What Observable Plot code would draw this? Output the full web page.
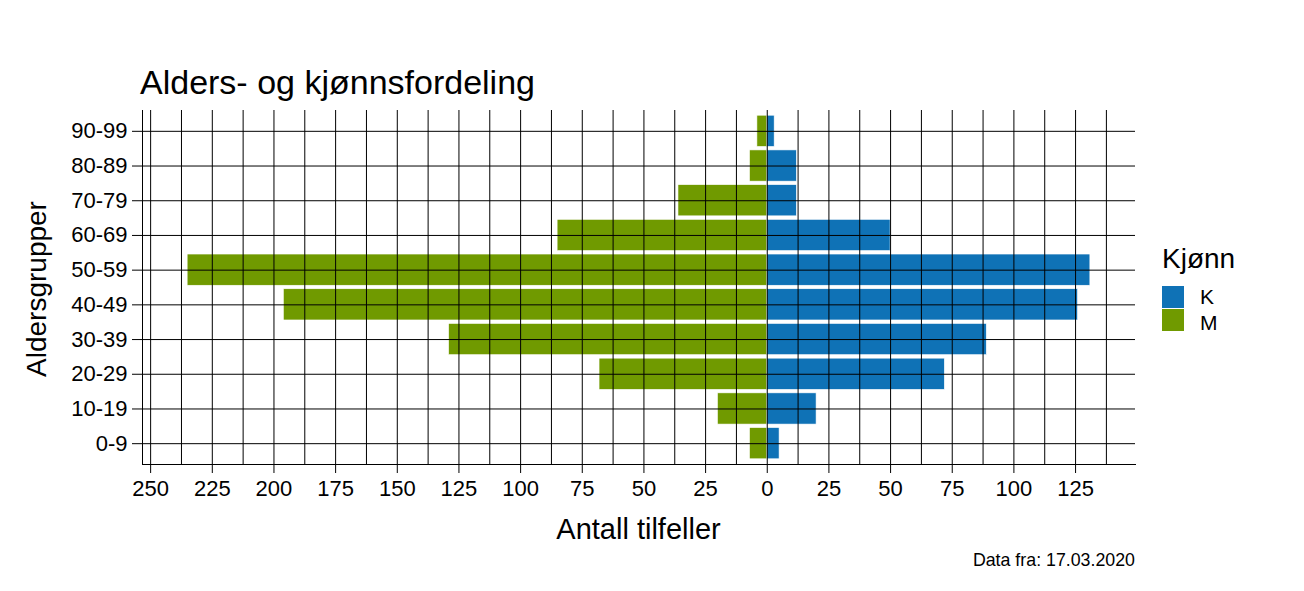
<!DOCTYPE html>
<html>
<head>
<meta charset="utf-8">
<script src="https://cdn.jsdelivr.net/npm/d3@7"></script>
<script src="https://cdn.jsdelivr.net/npm/@observablehq/plot@0.6"></script>
<style>
  html, body { margin: 0; padding: 0; background: #fff; }
  #wrap { position: relative; width: 1304px; height: 591px; font-family: "Liberation Sans", Arial, sans-serif; color: #000; }
  #wrap .t { position: absolute; white-space: nowrap; line-height: 1; }
  #chart { position: absolute; left: 0; top: 0; }
</style>
</head>
<body>
<div id="wrap">
  <div id="chart"></div>
</div>
<script>
// ---- data ----
const ageGroups = ["0-9", "10-19", "20-29", "30-39", "40-49", "50-59", "60-69", "70-79", "80-89", "90-99"];
const kvinner = [5, 20, 72, 89, 126, 131, 50, 12, 12, 3];   // K
const menn    = [7, 20, 68, 129, 196, 235, 85, 36, 7, 4];    // M
const genders = ["K", "M"];
const genderColors = ["#0f72b6", "#709a00"];
const xTickValues = [-250, -225, -200, -175, -150, -125, -100, -75, -50, -25, 0, 25, 50, 75, 100, 125];
const xMinorValues = xTickValues.map(v => v + 12.5);

const titleText = "Alders- og kjønnsfordeling";
const xTitle = "Antall tilfeller";
const yTitle = "Aldersgrupper";
const legendTitle = "Kjønn";
const captionText = "Data fra: 17.03.2020";

// ---- table ----
const rows = [];
ageGroups.forEach((a, i) => {
  rows.push({age: a, kjonn: "K", value: kvinner[i]});
  rows.push({age: a, kjonn: "M", value: -menn[i]});
});

// ggplot-like 5% expansion of the data range
const lo = -d3.max(menn), hi = d3.max(kvinner);
const pad = (hi - lo) * 0.05;
const xDomain = [lo - pad, hi + pad];
const minorInside = xMinorValues.filter(v => v > xDomain[0] && v < xDomain[1]);

const W = 1304, H = 591;
const mL = 142, mR = 169, mT = 110, mB = 127;

const chart = Plot.plot({
  width: W,
  height: H,
  marginLeft: mL,
  marginRight: mR,
  marginTop: mT,
  marginBottom: mB,
  style: {fontFamily: '"Liberation Sans", Arial, sans-serif', fontSize: "22px", color: "#000", background: "#fff"},
  x: {domain: xDomain, ticks: xTickValues, tickFormat: d => Math.abs(d), label: null},
  y: {domain: ageGroups.slice().reverse(), paddingInner: 0.1, paddingOuter: 0.15, round: false, label: null},
  color: {domain: genders, range: genderColors},
  marks: [
    Plot.barX(rows, {y: "age", x1: 0, x2: "value", fill: "kjonn", stroke: "white", strokeWidth: 0.6}),
    Plot.ruleX(minorInside, {stroke: "#000", strokeWidth: 1}),
    Plot.ruleX(xTickValues, {stroke: "#000", strokeWidth: 1}),
    Plot.ruleY(ageGroups, {stroke: "#000", strokeWidth: 1}),
    Plot.frame({anchor: "left", stroke: "#000", strokeWidth: 1}),
    Plot.frame({anchor: "bottom", stroke: "#000", strokeWidth: 1}),
    Plot.axisX({ticks: xTickValues, tickFormat: d => Math.abs(d), tickSize: 9, tickPadding: 7, label: null, fontSize: 22}),
    Plot.axisY({tickSize: 10, tickPadding: 5, label: null, fontSize: 22})
  ]
});
document.getElementById("chart").appendChild(chart);

// ---- texts & legend (HTML) ----
const wrap = document.getElementById("wrap");
function addText(txt, css) {
  const d = document.createElement("div");
  d.className = "t";
  d.textContent = txt;
  Object.assign(d.style, css);
  wrap.appendChild(d);
  return d;
}
addText(titleText, {left: "140px", top: "65px", fontSize: "34px"});
addText(xTitle, {left: ((mL + (W - mR)) / 2) + "px", top: "514.5px", fontSize: "29px", transform: "translateX(-50%)"});
addText(yTitle, {left: "37px", top: ((mT + (H - mB)) / 2 + 2) + "px", fontSize: "28px", transform: "translate(-50%,-50%) rotate(-90deg)"});
addText(captionText, {right: (W - 1135) + "px", top: "551.5px", fontSize: "17.8px"});

addText(legendTitle, {left: "1162px", top: "244.5px", fontSize: "28px"});
genders.forEach((g, i) => {
  const sw = document.createElement("div");
  Object.assign(sw.style, {position: "absolute", left: "1162px", top: (285.5 + i * 23.5) + "px", width: "22px", height: "22px", background: genderColors[i]});
  wrap.appendChild(sw);
  addText(g, {left: "1200px", top: (304 + i * 25.5 - 17.8) + "px", fontSize: "21px"});
});
</script>
</body>
</html>
